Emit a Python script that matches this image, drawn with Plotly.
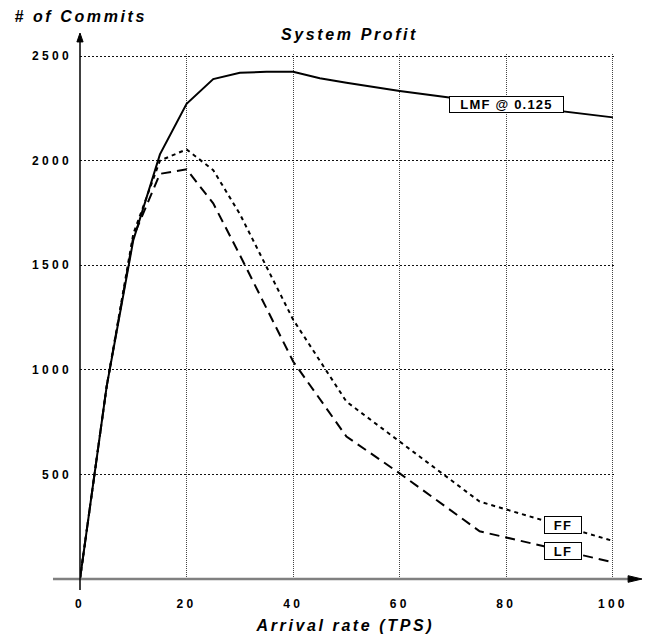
import plotly.graph_objects as go

# ---- data ----
lmf_x = [0, 5, 10, 15, 20, 25, 30, 35, 40, 45, 50, 60, 75, 100]
lmf_y = [0, 920, 1620, 2030, 2272, 2390, 2420, 2425, 2425, 2394, 2372, 2333, 2283, 2207]

ff_x = [0, 5, 10, 15, 20, 25, 30, 35, 40, 50, 60, 75, 100]
ff_y = [0, 920, 1650, 2000, 2054, 1955, 1745, 1490, 1240, 848, 657, 370, 182]

lf_x = [0, 5, 10, 15, 20, 25, 30, 40, 50, 60, 75, 100]
lf_y = [0, 920, 1635, 1937, 1959, 1796, 1549, 1040, 681, 505, 228, 80]

x_ticks = [0, 20, 40, 60, 80, 100]
x_ticklabels = ["0", "20", "40", "60", "80", "100"]
y_ticks = [500, 1000, 1500, 2000, 2500]
y_ticklabels = ["500", "1000", "1500", "2000", "2500"]

title_text = "System Profit"
x_title = "Arrival rate (TPS)"
y_title = "# of Commits"
lmf_label = "LMF @ 0.125"
ff_label = "FF"
lf_label = "LF"

FONT = "Liberation Sans, Arial, sans-serif"

fig = go.Figure()
fig.add_trace(go.Scatter(x=lmf_x, y=lmf_y, mode="lines", name="LMF",
                         line=dict(color="black", width=2), cliponaxis=False))
fig.add_trace(go.Scatter(x=ff_x, y=ff_y, mode="lines", name="FF",
                         line=dict(color="black", width=2, dash="4px,4px"), cliponaxis=False))
fig.add_trace(go.Scatter(x=lf_x, y=lf_y, mode="lines", name="LF",
                         line=dict(color="black", width=2, dash="10px,6px"), cliponaxis=False))

# axis lines (paper coords: data 0 == paper 0)
shapes = [
    dict(type="line", xref="paper", yref="paper", x0=-0.0505, x1=1.028, y0=0, y1=0,
         line=dict(color="#808080", width=2.5), layer="above"),
    dict(type="path", xref="paper", yref="paper",
         path="M 1.0245 -0.0063 L 1.0505 0 L 1.0245 0.0063 Z",
         fillcolor="black", line=dict(color="black", width=1), layer="above"),
    dict(type="line", xref="paper", yref="paper", x0=0, x1=0, y0=-0.021, y1=1.026,
         line=dict(color="black", width=1.5), layer="above"),
    dict(type="path", xref="paper", yref="paper",
         path="M -0.0058 1.023 L 0 1.040 L 0.0058 1.023 Z",
         fillcolor="black", line=dict(color="black", width=1), layer="above"),
]

lmf_label_x = 80
lmf_label_y = lmf_y[lmf_x.index(75)] + (lmf_y[lmf_x.index(100)] - lmf_y[lmf_x.index(75)]) * (lmf_label_x - 75) / 25

annotations = [
    dict(text=title_text, xref="paper", yref="paper", x=0.504, y=1.0362,
         xanchor="center", yanchor="middle", showarrow=False,
         font=dict(family=FONT, size=16, color="black", weight="bold", style="italic")),
    dict(text=y_title, xref="paper", yref="paper", x=0.0015, y=1.0705,
         xanchor="center", yanchor="middle", showarrow=False,
         font=dict(family=FONT, size=16, color="black", weight="bold", style="italic")),
    dict(text=x_title, xref="paper", yref="paper", x=0.4945, y=-0.0880,
         xanchor="center", yanchor="middle", showarrow=False,
         font=dict(family=FONT, size=16, color="black", weight="bold", style="italic")),
    dict(text=lmf_label, x=lmf_label_x, y=lmf_label_y, xref="x", yref="y",
         showarrow=False, bgcolor="white", bordercolor="black", borderwidth=1,
         width=113, height=15, borderpad=0,
         font=dict(family=FONT, size=13, color="black", weight="bold")),
    dict(text=ff_label, x=90.7, y=258, xref="x", yref="y",
         showarrow=False, bgcolor="white", bordercolor="black", borderwidth=1,
         width=36, height=16, borderpad=0,
         font=dict(family=FONT, size=13, color="black", weight="bold")),
    dict(text=lf_label, x=90.7, y=132, xref="x", yref="y",
         showarrow=False, bgcolor="white", bordercolor="black", borderwidth=1,
         width=36, height=16, borderpad=0,
         font=dict(family=FONT, size=13, color="black", weight="bold")),
]

fig.update_layout(
    width=646, height=635,
    margin=dict(l=80, r=31, t=54, b=56),
    paper_bgcolor="white", plot_bgcolor="white",
    showlegend=False,
    shapes=shapes,
    annotations=annotations,
    xaxis=dict(range=[0, 100.4], tickvals=x_ticks, ticktext=x_ticklabels,
               showgrid=True, gridcolor="#444444", griddash="1px,1px", gridwidth=1,
               zeroline=False, showline=False, ticks="", ticklabelstandoff=16,
               tickfont=dict(family=FONT, size=12, color="black", weight="bold"),
               fixedrange=True),
    yaxis=dict(range=[0, 2510], tickvals=y_ticks, ticktext=y_ticklabels,
               showgrid=True, gridcolor="#111111", griddash="2px,2px", gridwidth=1,
               zeroline=False, showline=False, ticks="", ticklabelstandoff=7,
               tickfont=dict(family=FONT, size=12, color="black", weight="bold"),
               fixedrange=True),
)

css_js = (
    "var s=document.createElement('style');"
    "s.textContent='text[style*=\"font-size: 16px\"]{letter-spacing:2.6px}"
    " text[style*=\"font-size: 12px\"]{letter-spacing:3.3px}"
    " text[style*=\"font-size: 13px\"]{letter-spacing:1.2px}';"
    "document.head.appendChild(s);"
)

fig.write_html("out.html", config={"displayModeBar": False}, post_script=css_js)
